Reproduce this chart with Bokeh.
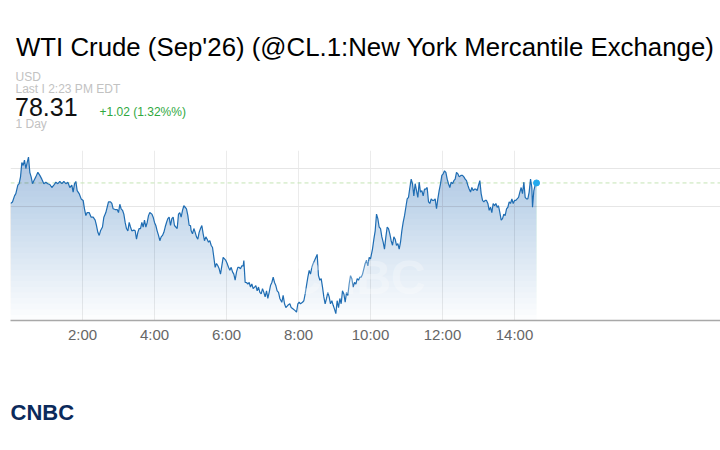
import numpy as np
from bokeh.plotting import figure
from bokeh.layouts import column
from bokeh.models import Range1d, FixedTicker, Label, Span, Grid
from bokeh.core.properties import value
from bokeh.embed import file_html
from bokeh.resources import INLINE

title_text = "WTI Crude (Sep'26) (@CL.1:New York Mercantile Exchange)"
currency = "USD"
last_text = "Last I 2:23 PM EDT"
last_price = 78.31
change_text = "+1.02 (1.32%%)"
period_text = "1 Day"
logo_text = "CNBC"
tick_minutes = [120, 240, 360, 480, 600, 720, 840]
tick_labels = ["2:00", "4:00", "6:00", "8:00", "10:00", "12:00", "14:00"]
grid_prices = [78.0, 78.5]

# minutes after midnight / price
t_seg1 = [0.0, 3.3, 6.7, 8.9, 12.2, 14.4, 16.7, 18.9, 21.1, 23.3,
          25.6, 27.8, 30.0, 32.2, 34.4, 36.7, 38.9, 42.2, 45.6, 48.9,
          52.2, 55.6, 58.9, 62.2, 65.6, 68.9, 72.2, 75.6, 78.9, 82.2,
          85.6, 88.9, 92.2, 95.6, 98.9, 102.2, 104.4, 106.7, 108.9, 111.1,
          114.4, 117.8, 121.1, 123.3, 125.6, 127.8, 131.1, 134.4, 137.8, 141.1,
          143.3, 145.6, 147.8, 150.0]
p_seg1 = [78.04, 78.06, 78.14, 78.17, 78.28, 78.30, 78.39, 78.58, 78.54, 78.61,
          78.50, 78.58, 78.65, 78.45, 78.39, 78.30, 78.34, 78.39, 78.45, 78.41,
          78.36, 78.30, 78.32, 78.30, 78.29, 78.25, 78.28, 78.32, 78.30, 78.33,
          78.30, 78.33, 78.30, 78.32, 78.25, 78.28, 78.19, 78.30, 78.33, 78.21,
          78.17, 78.10, 78.08, 77.97, 77.88, 77.92, 77.92, 77.86, 77.86, 77.82,
          77.75, 77.66, 77.62, 77.68]

t_seg2 = [153.3, 155.6, 158.9, 161.1, 163.3, 166.7, 168.9, 171.1, 174.4, 177.8,
          180.0, 182.2, 184.4, 186.7, 188.9, 191.1, 193.3, 195.6, 197.8, 200.0,
          202.2, 205.6, 207.8, 210.0, 212.2, 214.4, 216.7, 218.9, 221.1, 223.3,
          225.6, 227.8, 230.0, 232.2, 235.6, 237.8, 240.0, 242.2, 244.4, 246.7,
          248.9, 251.1, 253.3, 255.6, 257.8, 260.0, 262.2, 264.4, 266.7, 268.9,
          271.1, 273.3, 275.6, 277.8, 280.0, 282.2, 284.4, 286.7, 288.9, 291.1,
          293.3, 295.6, 297.8, 300.0]
p_seg2 = [77.73, 77.86, 77.92, 77.99, 78.06, 78.06, 78.04, 77.97, 77.96, 77.96,
          77.92, 78.03, 77.97, 77.95, 77.90, 77.79, 77.71, 77.68, 77.79, 77.73,
          77.68, 77.69, 77.68, 77.57, 77.66, 77.71, 77.71, 77.79, 77.73, 77.82,
          77.73, 77.79, 77.88, 77.92, 77.90, 77.86, 77.79, 77.75, 77.68, 77.62,
          77.55, 77.60, 77.62, 77.66, 77.73, 77.79, 77.84, 77.86, 77.75, 77.84,
          77.86, 77.75, 77.73, 77.71, 77.90, 77.92, 77.86, 77.95, 78.01, 77.99,
          77.97, 77.88, 77.75, 77.75]

t_seg3 = [301.1, 303.3, 305.6, 307.8, 310.0, 312.2, 314.4, 316.7, 318.9, 321.1,
          323.3, 325.6, 327.8, 330.0, 332.2, 334.4, 336.7, 338.9, 341.1, 343.3,
          345.6, 347.8, 350.0, 352.2, 354.4, 356.7, 358.9, 361.1, 363.3, 365.6,
          367.8, 370.0, 372.2, 374.4, 376.7, 378.9, 381.1, 383.3, 385.6, 387.8,
          388.9, 391.1, 393.3, 395.6, 397.8, 400.0, 402.2, 404.4, 406.7, 408.9,
          411.1, 413.3, 415.6, 417.8, 420.0, 422.2, 424.4, 426.7, 428.9, 431.1,
          433.3, 435.6, 437.8, 440.0, 442.2, 444.4, 446.7, 448.9]
p_seg3 = [77.68, 77.64, 77.71, 77.66, 77.60, 77.57, 77.66, 77.71, 77.75, 77.64,
          77.55, 77.60, 77.57, 77.53, 77.55, 77.49, 77.46, 77.33, 77.20, 77.25,
          77.22, 77.18, 77.11, 77.22, 77.33, 77.31, 77.29, 77.25, 77.20, 77.16,
          77.20, 77.14, 77.11, 77.03, 77.14, 77.20, 77.20, 77.18, 77.22, 77.22,
          77.29, 77.00, 77.00, 76.98, 77.00, 76.94, 76.98, 76.92, 76.94, 76.96,
          76.89, 76.94, 76.87, 76.85, 76.92, 76.87, 76.81, 76.89, 76.79, 76.87,
          76.96, 77.00, 77.07, 77.00, 76.96, 76.89, 76.87, 76.79]

t_seg4 = [452.2, 454.4, 456.7, 458.9, 462.2, 465.6, 467.8, 471.1, 474.4, 476.7,
          478.9, 481.1, 483.3, 486.7, 488.9, 491.1, 493.3, 495.6, 497.8, 500.0,
          502.2, 504.4, 506.7, 508.9, 511.1, 513.3, 515.6, 517.8, 520.0, 522.2,
          524.4, 526.7, 528.9, 531.1, 533.3, 535.6, 537.8, 540.0, 542.2, 544.4,
          546.7, 548.9, 551.1, 553.3, 555.6, 557.8, 560.0, 562.2, 564.4, 566.7,
          568.9, 571.1, 573.3, 575.6, 577.8, 580.0, 582.2, 584.4, 586.7, 588.9,
          591.1, 593.3, 595.6, 597.8, 600.0]
p_seg4 = [76.74, 76.83, 76.72, 76.67, 76.70, 76.72, 76.67, 76.65, 76.63, 76.61,
          76.72, 76.74, 76.72, 76.74, 76.76, 76.85, 76.96, 77.07, 77.16, 77.11,
          77.20, 77.25, 77.29, 77.33, 77.37, 77.09, 77.03, 77.05, 76.94, 76.81,
          76.72, 76.79, 76.87, 76.81, 76.72, 76.76, 76.70, 76.65, 76.59, 76.76,
          76.67, 76.79, 76.72, 76.89, 76.85, 76.74, 76.87, 76.83, 76.98, 77.09,
          77.05, 76.94, 77.00, 76.98, 77.05, 77.03, 77.07, 77.07, 77.11, 77.18,
          77.25, 77.29, 77.22, 77.33, 77.31]

t_seg5 = [603.3, 605.6, 607.8, 610.0, 612.2, 614.4, 616.7, 618.9, 621.1, 623.3,
          625.6, 627.8, 630.0, 632.2, 634.4, 636.7, 638.9, 641.1, 643.3, 645.6,
          647.8, 650.0, 652.2, 654.4, 656.7, 658.9, 661.1, 663.3, 665.6, 667.8,
          670.0, 672.2, 674.4, 676.7, 678.9, 681.1, 683.3, 685.6, 687.8, 690.0,
          692.2, 694.4, 696.7, 698.9, 701.1, 703.3, 705.6, 707.8, 710.0, 712.2,
          714.4, 716.7, 718.9, 721.1, 723.3, 725.6, 727.8, 730.0, 732.2, 734.4,
          736.7, 738.9, 741.1, 743.3, 745.6, 747.8]
p_seg5 = [77.44, 77.57, 77.68, 77.90, 77.84, 77.73, 77.71, 77.60, 77.53, 77.44,
          77.60, 77.73, 77.71, 77.64, 77.55, 77.49, 77.60, 77.57, 77.49, 77.51,
          77.44, 77.53, 77.68, 77.79, 77.88, 77.99, 78.10, 78.12, 78.25, 78.36,
          78.30, 78.14, 78.30, 78.21, 78.12, 78.32, 78.19, 78.21, 78.14, 78.23,
          78.23, 78.25, 78.06, 78.04, 78.10, 78.08, 78.08, 78.10, 77.97, 78.10,
          78.21, 78.30, 78.41, 78.43, 78.47, 78.45, 78.36, 78.30, 78.25, 78.32,
          78.30, 78.34, 78.36, 78.45, 78.43, 78.39]

t_seg6 = [751.1, 753.3, 755.6, 757.8, 760.0, 762.2, 764.4, 766.7, 768.9, 771.1,
          773.3, 775.6, 777.8, 780.0, 782.2, 784.4, 786.7, 788.9, 791.1, 793.3,
          795.6, 797.8, 800.0, 802.2, 804.4, 806.7, 808.9, 811.1, 813.3, 815.6,
          817.8, 820.0, 822.2, 824.4, 826.7, 828.9, 831.1, 833.3, 835.6, 837.8,
          840.0, 842.2, 844.4, 846.7, 848.9, 851.1, 853.3, 855.6, 857.8, 860.0,
          862.2, 864.4, 866.7, 868.9, 870.0, 872.2, 874.4, 876.7]
p_seg6 = [78.41, 78.41, 78.39, 78.36, 78.34, 78.28, 78.23, 78.19, 78.25, 78.21,
          78.23, 78.23, 78.21, 78.28, 78.34, 78.17, 78.08, 78.06, 78.08, 78.08,
          78.04, 77.95, 77.99, 77.92, 78.04, 78.01, 78.04, 77.99, 78.01, 77.92,
          77.82, 77.84, 77.90, 77.88, 77.97, 77.99, 78.06, 78.04, 78.10, 78.04,
          78.08, 78.08, 78.10, 78.12, 78.19, 78.25, 78.17, 78.32, 78.12, 78.10,
          78.10, 78.19, 78.36, 78.25, 77.99, 78.21, 78.28, 78.31]

times = np.array(t_seg1 + t_seg2 + t_seg3 + t_seg4 + t_seg5 + t_seg6)
prices = np.array(p_seg1 + p_seg2 + p_seg3 + p_seg4 + p_seg5 + p_seg6)

FONT = "Liberation Sans"


def blank(height, y0, y1):
    # frame spans page x 10..720 (aligned with the chart frame)
    f = figure(width=720, height=height, output_backend="svg",
               toolbar_location=None, x_range=Range1d(10, 720),
               y_range=Range1d(y1, y0), x_axis_location=None,
               y_axis_location=None,
               min_border_left=10, min_border_right=0,
               min_border_top=0, min_border_bottom=0)
    f.outline_line_color = None
    f.grid.visible = False
    f.background_fill_color = "white"
    f.border_fill_color = "white"
    return f


def txt(f, x, y, text, size, color, style="normal", align="left"):
    f.text(x=[x], y=[y], text=[text], text_font=value(FONT),
           text_font_size=value(size), text_color=color,
           text_font_style=style, text_align=align,
           text_baseline="middle")


# ---- header (page rows 0..150)
head = blank(150, 0, 150)
txt(head, 15.5, 46, title_text, "25.8px", "#000000")
txt(head, 15, 76, currency, "12px", "#c2c2c2")
txt(head, 15, 88, last_text, "12px", "#c2c2c2")
txt(head, 14.5, 106, f"{last_price:.2f}", "25px", "#111111")
txt(head, 99, 111.4, change_text, "12px", "#2fa83e")
txt(head, 15, 123, period_text, "12px", "#c2c2c2")

# ---- chart (page rows 150..390)
p = figure(width=720, height=240, output_backend="svg", toolbar_location=None,
           x_range=Range1d(0, 1183.3), y_range=Range1d(76.5, 78.737),
           y_axis_location=None,
           min_border_left=10, min_border_right=0,
           min_border_top=0, min_border_bottom=70)
p.outline_line_color = None
p.background_fill_color = "white"
p.border_fill_color = "white"

p.xgrid.ticker = FixedTicker(ticks=tick_minutes)
p.xgrid.grid_line_color = "#ebebeb"
p.ygrid.grid_line_color = None
p.add_layout(Grid(dimension=1, ticker=FixedTicker(ticks=grid_prices),
                  grid_line_color="#e6e6e6"), "center")

span = Span(location=last_price, dimension="width", line_color="#c4e4b4",
            line_dash="4 3", line_width=1)
span.level = "underlay"
p.add_layout(span)

for lv in np.linspace(76.5, 78.65, 30):
    p.varea(x=times, y1=np.full(len(prices), lv), y2=np.maximum(prices, lv),
            fill_color="#286eb4", fill_alpha=0.017)

p.line(times, prices, line_color="#1f6db3", line_width=1.2)
p.scatter([times[-1]], [prices[-1]], size=6, fill_color="#22aaee",
          line_color="#22aaee")

ax = p.xaxis[0]
ax.ticker = FixedTicker(ticks=tick_minutes)
ax.major_label_overrides = {m: l for m, l in zip(tick_minutes, tick_labels)}
ax.major_tick_line_color = None
ax.minor_tick_line_color = None
ax.major_tick_out = 0
ax.major_tick_in = 0
ax.axis_line_color = "#a8a8a8"
ax.axis_line_width = 1.5
ax.major_label_text_font = FONT
ax.major_label_text_font_size = "15px"
ax.major_label_text_color = "#666666"
ax.major_label_standoff = 5

p.add_layout(Label(x=415, y=43, x_units="screen", y_units="screen",
                   text=logo_text, text_font=FONT, text_font_size="48px",
                   text_font_style="bold", text_color="white",
                   text_alpha=0.3, text_align="right",
                   text_baseline="alphabetic"))

# ---- footer (page rows 390..450)
foot = blank(60, 390, 450)
txt(foot, 10, 411.5, logo_text, "22px", "#0b2a5b", style="bold")

layout = column(head, p, foot, spacing=0)
open("out.html", "w").write(file_html(layout, INLINE))
